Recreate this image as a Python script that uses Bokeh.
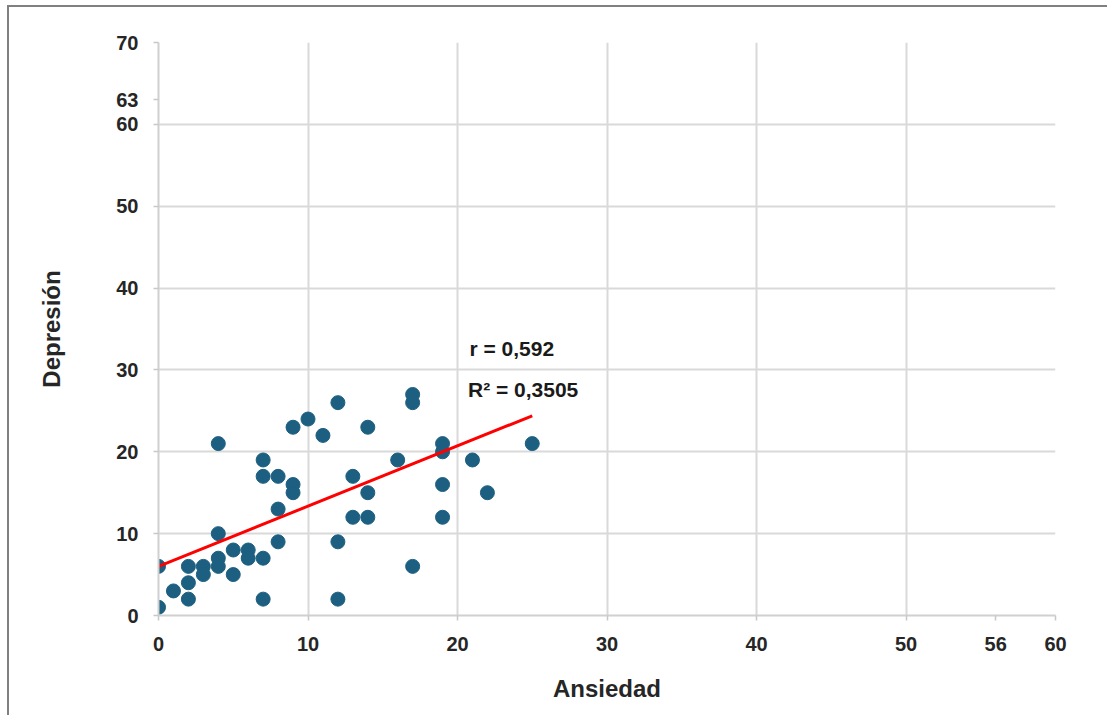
from bokeh.plotting import figure
from bokeh.models import Range1d, FixedTicker, Label, ColumnDataSource
from bokeh.embed import file_html
from bokeh.resources import INLINE

# data
ansiedad = [0, 0, 1, 2, 2, 2, 3, 3, 4, 4, 4, 4, 5, 5, 6, 6, 7, 7, 7, 7, 8, 8, 8,
            9, 9, 9, 10, 11, 12, 12, 12, 13, 13, 14, 14, 14, 16, 17, 17, 17,
            19, 19, 19, 19, 21, 22, 25]
depresion = [6, 1, 3, 6, 4, 2, 6, 5, 21, 10, 7, 6, 8, 5, 8, 7, 19, 17, 7, 2, 17, 13, 9,
             23, 16, 15, 24, 22, 26, 9, 2, 17, 12, 23, 15, 12, 19, 27, 26, 6,
             21, 20, 16, 12, 19, 15, 21]
trend_x = [0, 25]
trend_y = [6.0, 24.4]
x_ticks = [0, 10, 20, 30, 40, 50, 60]
y_ticks = [0, 10, 20, 30, 40, 50, 60, 70]
max_x_value = 56
max_y_value = 63
r_text = "r = 0,592"
r2_text = "R\u00b2 = 0,3505"

FONT = "Liberation Sans"

p = figure(width=1100, height=710, output_backend="svg", toolbar_location=None,
           x_range=Range1d(0, 60), y_range=Range1d(0, 70),
           min_border_left=149, min_border_right=54, min_border_top=35, min_border_bottom=102)
p.margin = (5, 0, 0, 7)
p.styles = {"border-left": "2px solid #808080", "border-top": "2px solid #808080"}
p.outline_line_color = None
p.background_fill_color = "white"
p.border_fill_color = "white"

for ax in (p.xaxis, p.yaxis):
    ax.axis_line_color = "#d0d0d0"
    ax.axis_line_width = 2
    ax.major_tick_line_color = "#c8c8c8"
    ax.major_tick_line_width = 1.5
    ax.major_tick_out = 5
    ax.major_tick_in = 0
    ax.minor_tick_line_color = None
    ax.major_label_text_font = FONT
    ax.major_label_text_font_style = "bold"
    ax.major_label_text_font_size = "20px"
    ax.major_label_text_color = "#262626"
    ax.axis_label_text_font = FONT
    ax.axis_label_text_font_style = "bold"
    ax.axis_label_text_font_size = "24px"
    ax.axis_label_text_color = "#262626"

# the maximum scores appear as extra labels on the axes
p.xaxis.ticker = FixedTicker(ticks=x_ticks + [max_x_value])
p.yaxis.ticker = FixedTicker(ticks=y_ticks + [max_y_value])
p.xaxis.major_label_standoff = 16
p.yaxis.major_label_standoff = 15
p.xaxis.axis_label = "Ansiedad"
p.yaxis.axis_label = "Depresión"
p.xaxis.axis_label_standoff = 21
p.yaxis.axis_label_standoff = 48

p.xgrid.ticker = FixedTicker(ticks=x_ticks)
p.ygrid.ticker = FixedTicker(ticks=y_ticks)
for g in (p.xgrid, p.ygrid):
    g.grid_line_color = "#d9d9d9"
    g.grid_line_width = 2

src = ColumnDataSource(dict(x=ansiedad, y=depresion))
p.scatter("x", "y", source=src, size=14, fill_color="#1d5f80", line_color="#1d5f80")
p.line(trend_x, trend_y, line_color="#ff0000", line_width=3)

p.add_layout(Label(x=20.8, y=32.6, text=r_text, text_align="left", text_baseline="middle",
                   text_font=FONT, text_font_size="21px", text_font_style="bold", text_color="#1a1a1a"))
p.add_layout(Label(x=20.7, y=27.6, text=r2_text, text_align="left", text_baseline="middle",
                   text_font=FONT, text_font_size="21px", text_font_style="bold", text_color="#1a1a1a"))

open("out.html", "w").write(file_html(p, INLINE))
